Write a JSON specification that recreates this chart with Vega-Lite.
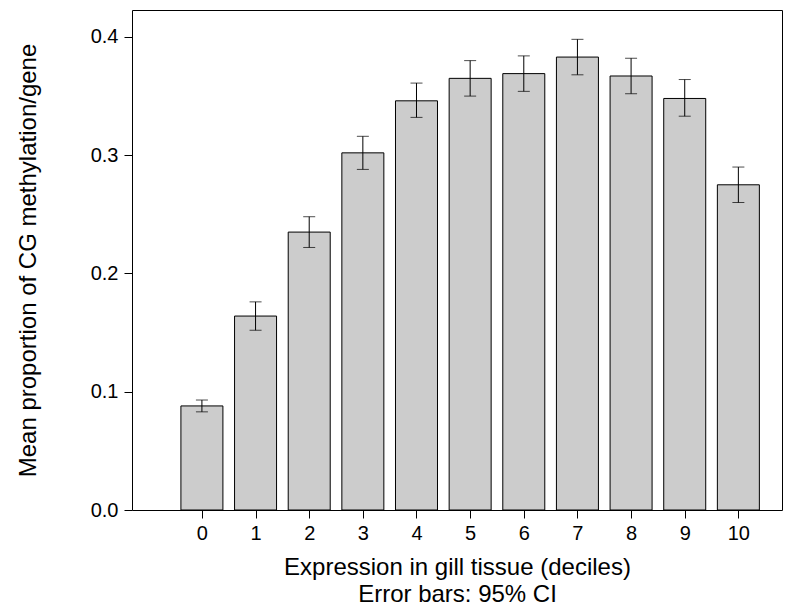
{
  "$schema": "https://vega.github.io/schema/vega-lite/v6.json",
  "width": 650,
  "height": 500,
  "autosize": {"type": "none"},
  "padding": {"left": 132, "top": 10, "right": 18, "bottom": 101},
  "data": {
    "values": [
      {"decile": 0, "mean": 0.088, "lo": 0.083, "hi": 0.093},
      {"decile": 1, "mean": 0.164, "lo": 0.152, "hi": 0.176},
      {"decile": 2, "mean": 0.235, "lo": 0.222, "hi": 0.248},
      {"decile": 3, "mean": 0.302, "lo": 0.288, "hi": 0.316},
      {"decile": 4, "mean": 0.346, "lo": 0.332, "hi": 0.361},
      {"decile": 5, "mean": 0.365, "lo": 0.350, "hi": 0.380},
      {"decile": 6, "mean": 0.369, "lo": 0.354, "hi": 0.384},
      {"decile": 7, "mean": 0.383, "lo": 0.368, "hi": 0.398},
      {"decile": 8, "mean": 0.367, "lo": 0.352, "hi": 0.382},
      {"decile": 9, "mean": 0.348, "lo": 0.333, "hi": 0.364},
      {"decile": 10, "mean": 0.275, "lo": 0.260, "hi": 0.290}
    ]
  },
  "encoding": {
    "x": {
      "field": "decile",
      "type": "quantitative",
      "scale": {"domain": [-1.21, 10.72], "nice": false, "zero": false},
      "axis": {
        "values": [0, 1, 2, 3, 4, 5, 6, 7, 8, 9, 10],
        "grid": false,
        "domain": false,
        "tickColor": "black",
        "tickSize": 8,
        "labelFontSize": 20,
        "labelPadding": 5,
        "title": ["Expression in gill tissue (deciles)", "Error bars: 95% CI"],
        "titleFontSize": 24,
        "titleFontWeight": "normal",
        "titlePadding": 12,
        "titleLineHeight": 27
      }
    }
  },
  "layer": [
    {
      "mark": {"type": "bar", "width": 42, "fill": "#cccccc", "stroke": "black", "strokeWidth": 1},
      "encoding": {
        "y": {
          "field": "mean",
          "type": "quantitative",
          "scale": {"domain": [0, 0.4228], "nice": false},
          "axis": {
            "values": [0, 0.1, 0.2, 0.3, 0.4],
            "format": ".1f",
            "grid": false,
            "domain": false,
            "tickColor": "black",
            "tickSize": 8,
            "labelFontSize": 20,
            "labelPadding": 6,
            "title": "Mean proportion of CG methylation/gene",
            "titleFontSize": 24,
            "titleFontWeight": "normal",
            "titlePadding": 50
          }
        }
      }
    },
    {
      "mark": {"type": "rule", "color": "black"},
      "encoding": {"y": {"field": "lo", "type": "quantitative"}, "y2": {"field": "hi"}}
    },
    {
      "mark": {"type": "tick", "color": "black", "orient": "horizontal", "size": 12, "thickness": 1},
      "encoding": {"y": {"field": "lo", "type": "quantitative"}}
    },
    {
      "mark": {"type": "tick", "color": "black", "orient": "horizontal", "size": 12, "thickness": 1},
      "encoding": {"y": {"field": "hi", "type": "quantitative"}}
    }
  ],
  "config": {
    "font": "Liberation Sans",
    "view": {"stroke": "black", "strokeWidth": 1},
    "axis": {"labelColor": "black", "titleColor": "black"}
  }
}
